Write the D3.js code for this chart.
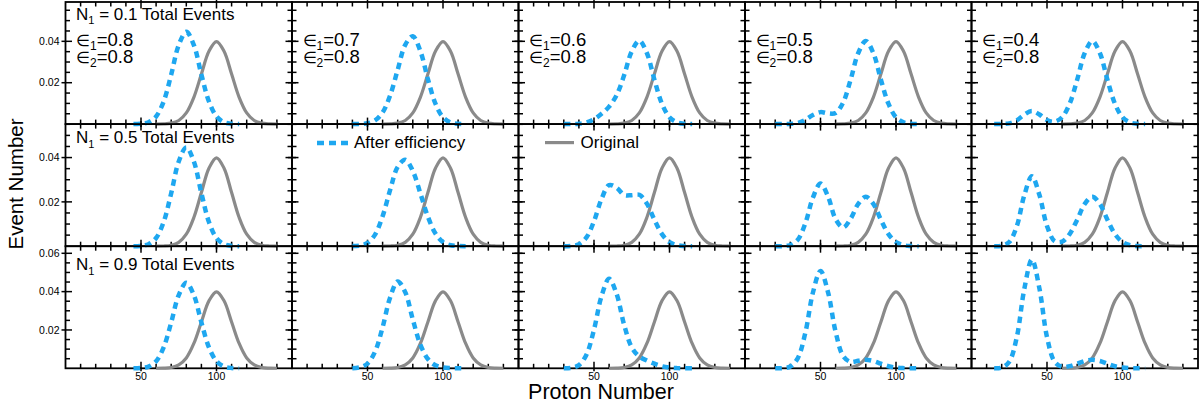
<!DOCTYPE html>
<html>
<head>
<meta charset="utf-8">
<script src="https://cdn.jsdelivr.net/npm/d3@7"></script>
<style>
  body { margin: 0; background: #fff; }
  svg { display: block; }
  text { font-family: "Liberation Sans", Arial, Helvetica, sans-serif; fill: #000; }
</style>
</head>
<body>
<svg id="chart" width="1199" height="409"></svg>
<script>
// efficiency panels — 3 rows (N1 share) x 5 columns (eps1)

const eps1Labels = ["0.8", "0.7", "0.6", "0.5", "0.4"];
const eps2Label = "0.8";
const n1Labels = ["0.1", "0.5", "0.9"];

const xTickLabels = [50, 100];
const yTickLabels = [["0.02", "0.04"], ["0.02", "0.04"], ["0.02", "0.04", "0.06"]];

// original distribution, proton number 60..140 step 5
const originalStart = 60;
const originalVals = [0.0000134, 0.0000873, 0.000443, 0.00175, 0.0054, 0.01295, 0.0242, 0.0352, 0.0399,
  0.0352, 0.0242, 0.01295, 0.0054, 0.00175, 0.000443, 0.0000873, 0.0000134];

// after efficiency, step 5, first proton number per column
const afterStart = [45, 40, 30, 20, 15];
const afterCol1 = [0.00002, 0.00016, 0.0009, 0.0037, 0.0109, 0.0239, 0.0382, 0.0446, 0.0382, 0.0239, 0.0109, 0.0037, 0.0009, 0.00016, 0.00002];

const afterN01 = [
  afterCol1,
  [0.00001, 0.000074, 0.00042, 0.00176, 0.00563, 0.01383, 0.02625, 0.03832, 0.04247, 0.03529, 0.02176, 0.00989, 0.0033, 0.00081, 0.000145, 0.000019],
  [0.000003, 0.000028, 0.000186, 0.00081, 0.00238, 0.00499, 0.00844, 0.01402, 0.02372, 0.03513, 0.04032, 0.03436, 0.02149, 0.00984, 0.00329, 0.00081, 0.000145, 0.000019],
  [0.0000007, 0.000011, 0.000103, 0.000595, 0.00208, 0.00441, 0.00579, 0.0052, 0.00537, 0.01043, 0.02159, 0.03435, 0.04014, 0.03434, 0.02148, 0.00984, 0.00329, 0.00081, 0.000145, 0.000019],
  [0.0000026, 0.000043, 0.000379, 0.00181, 0.00462, 0.00631, 0.00463, 0.00195, 0.00119, 0.00334, 0.00984, 0.02148, 0.03434, 0.04014, 0.03434, 0.02148, 0.00984, 0.00329, 0.00081, 0.000145, 0.000019]
];
const afterN05 = [
  afterCol1,
  [0.00004, 0.000285, 0.00145, 0.00523, 0.0135, 0.0254, 0.03578, 0.03902, 0.03397, 0.02386, 0.0133, 0.00574, 0.00187, 0.00045, 0.00008, 0.00001],
  [0.000014, 0.000141, 0.00092, 0.00396, 0.01127, 0.02135, 0.02758, 0.02637, 0.02313, 0.02303, 0.02322, 0.01922, 0.01195, 0.00547, 0.00183, 0.00045, 0.00008, 0.00001],
  [0.0000035, 0.000055, 0.000517, 0.00297, 0.01038, 0.02198, 0.02829, 0.02242, 0.01221, 0.00844, 0.01245, 0.01913, 0.0223, 0.01908, 0.01194, 0.00547, 0.00183, 0.00045, 0.00008, 0.00001],
  [0.000013, 0.000213, 0.00189, 0.00904, 0.02308, 0.03154, 0.02309, 0.00912, 0.00234, 0.00204, 0.00548, 0.01194, 0.01908, 0.0223, 0.01908, 0.01194, 0.00547, 0.00183, 0.00045, 0.00008, 0.00001]
];
const afterN09 = [
  afterCol1,
  [0.00007, 0.0005, 0.00248, 0.00869, 0.02137, 0.03699, 0.0453, 0.03971, 0.02547, 0.01242, 0.00485, 0.00159, 0.00044, 0.0001, 0.000016, 0.000002],
  [0.000026, 0.000254, 0.00165, 0.00711, 0.02016, 0.03772, 0.04672, 0.03872, 0.02253, 0.01093, 0.00611, 0.00407, 0.00241, 0.00109, 0.00037, 0.00009, 0.000016, 0.000002],
  [0.0000062, 0.000098, 0.00093, 0.00535, 0.01868, 0.03955, 0.0508, 0.03964, 0.01905, 0.00644, 0.00332, 0.00391, 0.00447, 0.00382, 0.00239, 0.00109, 0.00037, 0.00009, 0.000016, 0.000002],
  [0.000023, 0.000383, 0.00341, 0.01626, 0.04154, 0.05677, 0.04154, 0.01628, 0.0035, 0.00075, 0.00112, 0.00239, 0.00382, 0.00446, 0.00382, 0.00239, 0.00109, 0.00037, 0.00009, 0.000016, 0.000002]
];
const afterRows = [afterN01, afterN05, afterN09];

const cfg = {
  left: 65.5, right: 1198, top: 2, rowH: 122.1,
  xDomain: [0, 150], step: 5,
  yMax: [0.059, 0.0551, 0.0637],
  blue: "#1ea7f0", gray: "#8a8a8a",
  nLabelDy: [17.5, 19, 24]
};
const colW = (cfg.right - cfg.left) / 5;

const svg = d3.select("#chart");

function toPoints(start, vals) {
  return vals.map((v, i) => [start + i * cfg.step, v]);
}

function drawTicks(g, x, y, r) {
  const x0 = x.range()[0], x1 = x.range()[1];
  const yb = y.range()[0], yt = y.range()[1];
  const xMinor = d3.range(10, 150, 10).filter(v => v % 50 !== 0);
  const yMinor = d3.range(1, Math.floor(cfg.yMax[r] / 0.005 + 1e-6) + 1).map(k => k * 0.005).filter(v => Math.abs(v / 0.02 - Math.round(v / 0.02)) > 1e-6);
  const yMajor = d3.range(1, Math.floor(cfg.yMax[r] / 0.02 + 1e-6) + 1).map(k => k * 0.02);
  const segs = [];
  xMinor.forEach(v => { segs.push([x(v), yb, x(v), yb - 4.5]); segs.push([x(v), yt, x(v), yt + 4.5]); });
  xTickLabels.forEach(v => { segs.push([x(v), yb + 3, x(v), yb - 6.5]); segs.push([x(v), yt - 3, x(v), yt + 6.5]); });
  yMinor.forEach(v => { segs.push([x0, y(v), x0 + 4.5, y(v)]); segs.push([x1, y(v), x1 - 4.5, y(v)]); });
  yMajor.forEach(v => { segs.push([x0 - 4, y(v), x0 + 6.5, y(v)]); segs.push([x1 + 4, y(v), x1 - 6.5, y(v)]); });
  g.selectAll("line.tick").data(segs).enter().append("line").attr("class", "tick")
    .attr("x1", d => d[0]).attr("y1", d => d[1]).attr("x2", d => d[2]).attr("y2", d => d[3])
    .attr("stroke", "#000").attr("stroke-width", 1.5);
}

function subText(sel, parts, size, subSize, headSize) {
  // parts: [main, sub, rest]
  const head = sel.append("tspan").text(parts[0]);
  if (headSize) head.attr("font-size", headSize);
  sel.append("tspan").attr("font-size", subSize).attr("dy", size * 0.26).text(parts[1]);
  sel.append("tspan").attr("dy", -size * 0.26).text(parts[2]);
}

for (let r = 0; r < 3; r++) {
  for (let c = 0; c < 5; c++) {
    const x0 = cfg.left + c * colW;
    const yTop = cfg.top + r * cfg.rowH;
    const x = d3.scaleLinear().domain(cfg.xDomain).range([x0, x0 + colW]);
    const y = d3.scaleLinear().domain([0, cfg.yMax[r]]).range([yTop + cfg.rowH, yTop]);
    const g = svg.append("g").attr("class", "panel");

    g.append("rect").attr("x", x0).attr("y", yTop).attr("width", colW).attr("height", cfg.rowH)
      .attr("fill", "none").attr("stroke", "#000").attr("stroke-width", 1.8);
    drawTicks(g, x, y, r);

    const line = d3.line().x(d => x(d[0])).y(d => y(d[1])).curve(d3.curveCatmullRom.alpha(0.5));
    g.append("path").attr("d", line(toPoints(originalStart, originalVals)))
      .attr("fill", "none").attr("stroke", cfg.gray).attr("stroke-width", 3.2);
    g.append("path").attr("d", line(toPoints(afterStart[c], afterRows[r][c])))
      .attr("fill", "none").attr("stroke", cfg.blue).attr("stroke-width", 4.5)
      .attr("stroke-dasharray", "6.5,5");

    if (c === 0) {
      const t = g.append("text").attr("x", x0 + 10.5).attr("y", yTop + cfg.nLabelDy[r]).attr("font-size", 17);
      subText(t, ["N", "1", " = " + n1Labels[r] + " Total Events"], 17, 11);
      yTickLabels[r].forEach(lab => {
        g.append("text").attr("x", x0 - 6).attr("y", y(+lab)).attr("dy", "0.36em")
          .attr("text-anchor", "end").attr("font-size", 10.5).text(lab);
      });
    }
    if (r === 0) {
      const t1 = g.append("text").attr("x", x0 + 10.5).attr("y", yTop + 44).attr("font-size", 18.5);
      subText(t1, ["\u2208", "1", "=" + eps1Labels[c]], 17, 12, 15.5);
      const t2 = g.append("text").attr("x", x0 + 10.5).attr("y", yTop + 60.5).attr("font-size", 18.5);
      subText(t2, ["\u2208", "2", "=" + eps2Label], 17, 12, 15.5);
    }
    if (r === 2) {
      xTickLabels.forEach(v => {
        g.append("text").attr("x", x(v)).attr("y", yTop + cfg.rowH + 12).attr("text-anchor", "middle")
          .attr("font-size", 10.5).text(v);
      });
    }
  }
}

// legend
const lgTop = cfg.top + cfg.rowH;
const lgA = cfg.left + colW;
svg.append("line").attr("x1", lgA + 25).attr("x2", lgA + 56).attr("y1", lgTop + 19).attr("y2", lgTop + 19)
  .attr("stroke", cfg.blue).attr("stroke-width", 4.5).attr("stroke-dasharray", "7,5");
svg.append("text").attr("x", lgA + 62).attr("y", lgTop + 23.5).attr("font-size", 17).text("After efficiency");
const lgB = cfg.left + 2 * colW;
svg.append("line").attr("x1", lgB + 26.5).attr("x2", lgB + 55.5).attr("y1", lgTop + 18.5).attr("y2", lgTop + 18.5)
  .attr("stroke", cfg.gray).attr("stroke-width", 3.2);
svg.append("text").attr("x", lgB + 62).attr("y", lgTop + 23.5).attr("font-size", 17).text("Original");

// axis titles
svg.append("text").attr("transform", "translate(23,184) rotate(-90)").attr("text-anchor", "middle")
  .attr("font-size", 20.5).text("Event Number");
svg.append("text").attr("x", 601).attr("y", 399).attr("text-anchor", "middle")
  .attr("font-size", 21.5).text("Proton Number");
</script>
</body>
</html>
